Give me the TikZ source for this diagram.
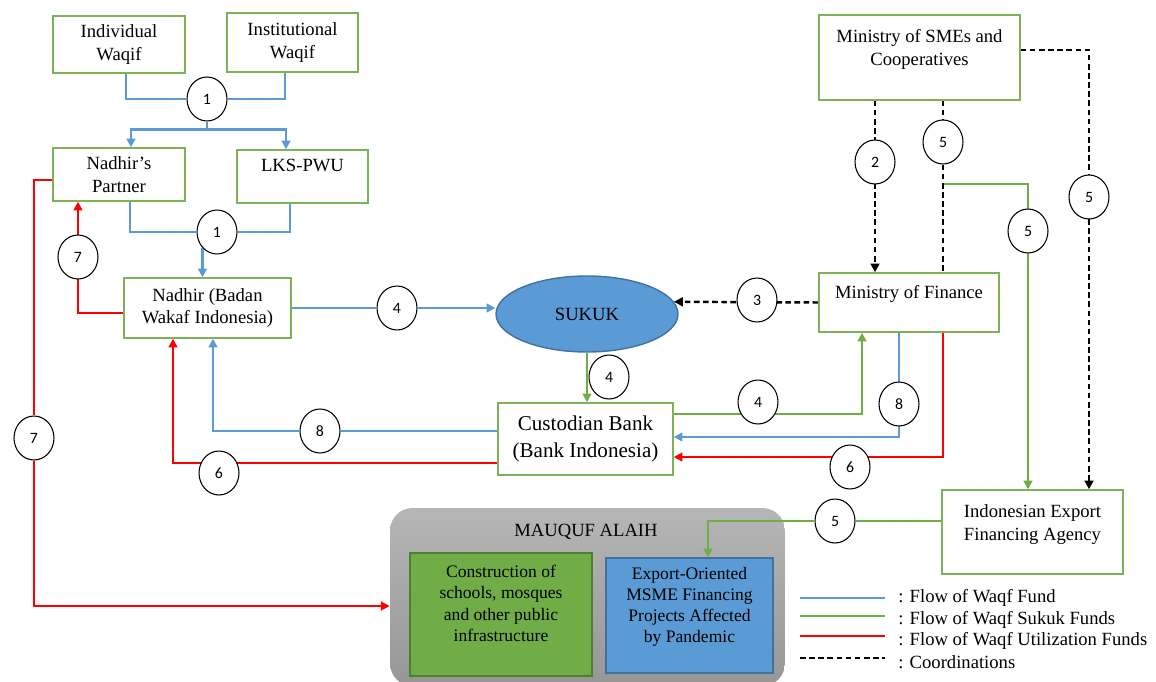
\documentclass[tikz,border=0pt]{standalone}
\usepackage{fontspec}
\setmainfont{Liberation Serif}
\newfontfamily\numfont{Carlito}
\usetikzlibrary{arrows.meta,shapes.geometric,backgrounds}

\definecolor{waqfblue}{HTML}{5B9BD5}
\definecolor{sukukgreen}{HTML}{70AD47}
\definecolor{utilred}{HTML}{FF0000}
\definecolor{boxgreen}{HTML}{7DB356}
\definecolor{darkblue}{HTML}{41719C}
\definecolor{darkgreen}{HTML}{507E32}

\tikzset{
  >={Triangle[length=5pt,width=5pt]},
  box/.style={draw=boxgreen, line width=0.8pt, fill=white, align=center, inner sep=2pt,
    font=\fontsize{10.6}{13}\selectfont},
  inner/.style={line width=0.8pt, align=center, inner sep=2pt, font=\fontsize{10}{12}\selectfont},
  lift/.style={text depth=#1},
  num/.style={ellipse, draw=black, line width=0.6pt, fill=white, minimum width=0.8cm,
    minimum height=0.88cm, inner sep=0pt, font=\numfont\fontsize{9}{9}\selectfont},
  legend/.style={anchor=west, inner sep=0pt, font=\fontsize{10.6}{13}\selectfont},
  waqfflow/.style={draw=waqfblue, line width=1.2pt},
  sukukflow/.style={draw=sukukgreen, line width=1.2pt},
  utilflow/.style={draw=utilred, line width=1.2pt},
  coordflow/.style={draw=black, line width=1.4pt, dash pattern=on 3.2pt off 2pt},
}

\begin{document}
\begin{tikzpicture}[x=0.02cm, y=-0.02cm]
\useasboundingbox (0,0) rectangle (1156,682);
% boxes
\path (119,44.5) node[box, minimum width=2.64cm, minimum height=1.14cm] (ind) {Individual\\Waqif};
\path (292.5,42.5) node[box, minimum width=2.62cm, minimum height=1.18cm] (ins) {Institutional\\Waqif};
\path (119,174.5) node[box, minimum width=2.64cm, minimum height=1.06cm] (partner) {Nadhir's\\Partner};
\path (302.5,176.5) node[box, lift=12.7pt, minimum width=2.62cm, minimum height=1.06cm] (lks) {LKS-PWU};
\path (207.5,308) node[box, minimum width=3.34cm, minimum height=1.2cm] (nadhir) {Nadhir (Badan\\Wakaf Indonesia)};
\path (587,314) node[ellipse, draw=darkblue, fill=waqfblue, line width=0.8pt, minimum width=3.64cm,
  minimum height=1.52cm, inner sep=0pt, font=\fontsize{10.6}{12}\selectfont] (sukuk) {SUKUK};
\path (585.5,439) node[box, minimum width=3.5cm, minimum height=1.44cm, font=\fontsize{12}{15}\selectfont] (cust) {Custodian Bank\\(Bank Indonesia)};
\path (919.5,57.5) node[box, lift=11.1pt, minimum width=4.02cm, minimum height=1.7cm] (smes) {Ministry of SMEs and\\Cooperatives};
\path (909,302.5) node[box, lift=12pt, minimum width=3.6cm, minimum height=1.18cm] (mof) {Ministry of Finance};
\path (1032.5,532) node[box, lift=10.5pt, minimum width=3.62cm, minimum height=1.68cm] (ifa) {Indonesian Export\\Financing Agency};

% mauquf alaih
\path (586,532) node[font=\fontsize{10.6}{13}\selectfont] (mtitle) {MAUQUF ALAIH};
\path (501,614.5) node[inner, fill=sukukgreen, draw=darkgreen, lift=12.7pt, minimum width=3.64cm,
  minimum height=2.46cm] (infra) {Construction of\\schools, mosques\\and other public\\infrastructure};
\path (689.5,615.5) node[inner, fill=waqfblue, draw=darkblue, lift=12.1pt, minimum width=3.34cm,
  minimum height=2.3cm] (msme) {Export-Oriented\\MSME Financing\\Projects Affected\\by Pandemic};

% numbers
\path (207,99) node[num] (c1a) {1};
\path (217,232) node[num] (c1b) {1};
\path (78,257) node[num] (c7a) {7};
\path (34,438) node[num] (c7b) {7};
\path (397,308) node[num] (c4a) {4};
\path (609,377) node[num] (c4b) {4};
\path (758,402) node[num] (c4c) {4};
\path (757,300) node[num] (c3) {3};
\path (320,431) node[num] (c8a) {8};
\path (899,404) node[num] (c8b) {8};
\path (219,473) node[num] (c6a) {6};
\path (850,467) node[num] (c6b) {6};
\path (875,162) node[num] (c2) {2};
\path (943,142) node[num] (c5a) {5};
\path (1028,231) node[num] (c5b) {5};
\path (1089,197) node[num] (c5c) {5};
\path (835,521) node[num] (c5d) {5};

\begin{scope}[on background layer]
\path (587.5,597) node[rounded corners=0.45cm, top color={rgb,255:red,182;green,182;blue,182},
  bottom color={rgb,255:red,150;green,150;blue,150}, minimum width=7.9cm, minimum height=3.56cm] (mauquf) {};
% flow of waqf fund
\draw[waqfflow] (ind.south -| 126,0) |- (c1a) -| (ins.south -| 285,0);
\draw[waqfflow] (c1a.south) -- ++(0,8) coordinate (split);
\draw[waqfflow,->] (split) -| (partner.north -| 131,0);
\draw[waqfflow,->] (split) -| (lks.north -| 286,0);
\draw[waqfflow] (partner.south -| 130,0) |- (c1b) -| (lks.south -| 290,0);
\draw[waqfflow,->] (c1b.south west) -- (c1b.south west |- nadhir.north);
\draw[waqfflow,->] (nadhir.east) -- (c4a) -- (nadhir.east -| sukuk.west);
\draw[waqfflow,->] (cust.west |- c8a) -- (c8a) -| (nadhir.south -| 213,0);
\draw[waqfflow,->] (mof.south -| c8b) |- (cust.east |- 0,437);
% flow of waqf sukuk funds
\draw[sukukflow,->] (sukuk.south) -- (cust.north -| sukuk.south);
\draw[sukukflow,->] (cust.east |- 0,414) -| (mof.south -| 862,0);
\coordinate (branch) at (943,184);
\draw[sukukflow,->] (branch) -| (ifa.north -| c5b);
\draw[sukukflow,->] (ifa.west |- c5d) -- (c5d) -| (msme.north -| 708,0);
% flow of waqf utilization funds
\draw[utilflow,->] (nadhir.west |- 0,313) -| (partner.south -| c7a);
\draw[utilflow,->] (partner.west |- 0,180) -| (c7b) |- (mauquf.west |- 0,606);
\draw[utilflow,->] (cust.west |- 0,463) -| (nadhir.south -| 173,0);
\draw[utilflow,->] (mof.south -| 943,0) |- (cust.east |- 0,457);
% coordinations
\draw[coordflow,->] (mof.west) -- (sukuk.8);
\draw[coordflow,->] (smes.south -| c2) -- (mof.north -| c2);
\draw[coordflow] (smes.south -| branch) -- (mof.north -| branch);
\draw[coordflow,->] (smes.east |- 0,50) -| (ifa.north -| c5c);
\end{scope}

% legend
\draw[waqfflow] (800,598) -- (885,598);
\draw[sukukflow] (800,616) -- (885,616);
\draw[utilflow] (800,636) -- (885,636);
\draw[coordflow] (800,658) -- (885,658);
\path (898,598) node[legend] (l1) {: Flow of Waqf Fund};
\path (898,620) node[legend] (l2) {: Flow of Waqf Sukuk Funds};
\path (898,641) node[legend] (l3) {: Flow of Waqf Utilization Funds};
\path (898,662) node[legend] (l4) {: Coordinations};
\end{tikzpicture}
\end{document}
